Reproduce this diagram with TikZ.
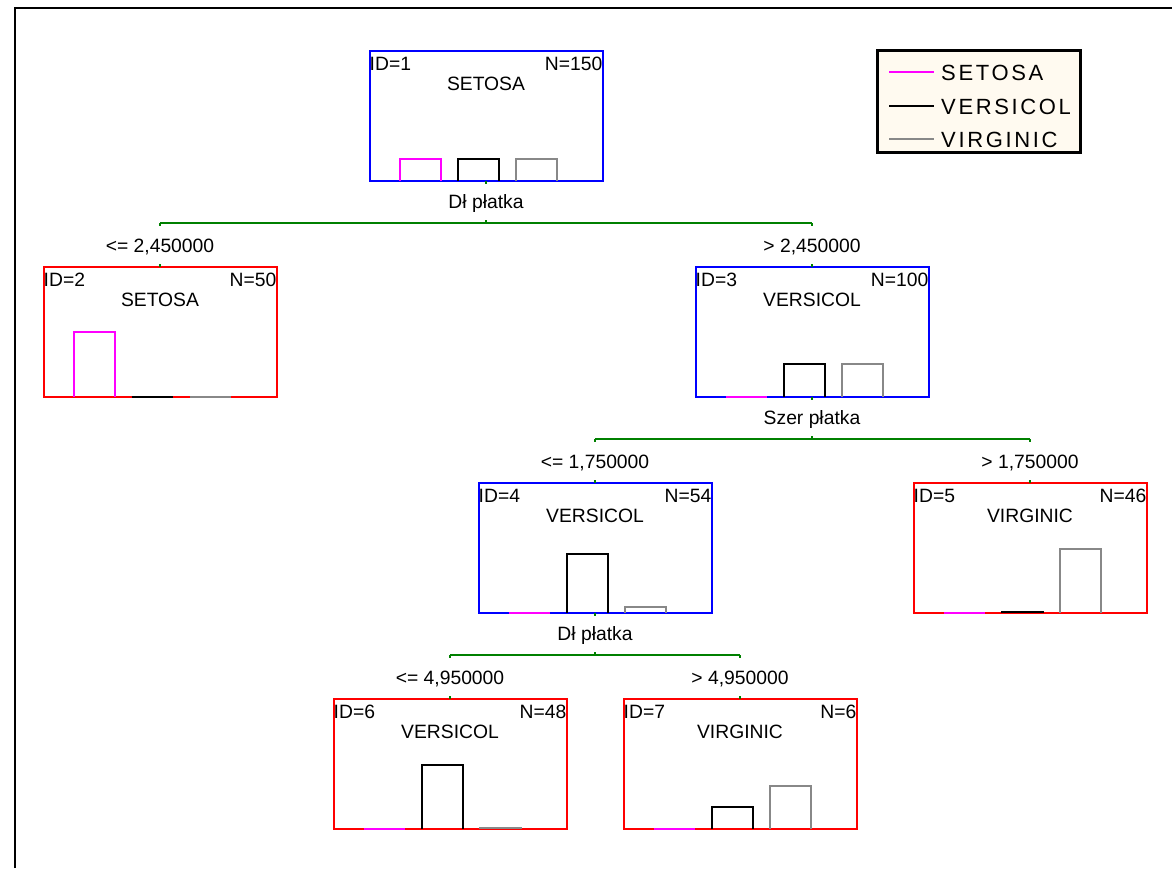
\documentclass[tikz,border=0pt]{standalone}
\usepackage{fontspec}
\setmainfont{Liberation Sans}
\newfontfamily\legfont[LetterSpace=12]{Liberation Sans}
\definecolor{tgreen}{RGB}{0,128,0}
\definecolor{tblue}{RGB}{0,0,255}
\definecolor{tred}{RGB}{255,0,0}
\definecolor{tmag}{RGB}{255,0,255}
\definecolor{tgray}{RGB}{136,136,136}
\definecolor{cream}{RGB}{255,250,240}
\tikzset{
  tbox/.style={draw, line width=2pt, minimum width=233pt, minimum height=130pt, outer sep=0pt, inner sep=0pt},
  txt/.style={inner sep=0pt, font=\fontsize{19.3}{22}\selectfont},
  legtxt/.style={inner sep=0pt, font=\fontsize{22}{26}\selectfont\legfont},
  conn/.style={draw=tgreen, line width=2pt},
  barline/.style={line width=2pt},
  legbox/.style={draw=black, line width=3pt, fill=cream, minimum width=203pt, minimum height=102pt, outer sep=0pt, inner sep=0pt}
}
\newcommand\treenode[7]{%
  \node[tbox, draw=#4, anchor=north] (#1) at (#2,#3) {};
  \node[txt, anchor=base west] (#1-id) at ([yshift=-19pt]#1.north west) {ID=#5};
  \node[txt, anchor=base east] (#1-n) at ([yshift=-19pt]#1.north east) {N=#6};
  \node[txt, anchor=base] (#1-cl) at ([yshift=-39pt]#1.north) {#7};
}
\newcommand\treebars[4]{%
  \draw[barline, tmag] ([xshift=30pt]#1.south west) -- ++(0,-#2) -- ++(41,0) -- ++(0,#2);
  \draw[barline, black] ([xshift=88pt]#1.south west) -- ++(0,-#3) -- ++(41,0) -- ++(0,#3);
  \draw[barline, tgray] ([xshift=146pt]#1.south west) -- ++(0,-#4) -- ++(41,0) -- ++(0,#4);
}
% split: parent, left child, right child, variable, left label, right label
\newcommand\treesplit[6]{%
  \node[txt, anchor=base] (#1-var) at ([yshift=-27pt]#1.south) {#4};
  \coordinate (#1-s) at ([yshift=-42pt]#1.south);
  \draw[conn] (#1.south) -- ++(0,3);
  \draw[conn] (#1-s) -- ++(0,-3);
  \draw[conn] (#2.north |- #1-s) -- (#3.north |- #1-s);
  \draw[conn] (#2.north |- #1-s) -- ++(0,3);
  \draw[conn] (#3.north |- #1-s) -- ++(0,3);
  \draw[conn] (#2.north) -- ++(0,-3);
  \draw[conn] (#3.north) -- ++(0,-3);
  \node[txt, anchor=base] (#2-cond) at ([yshift=15pt]#2.north) {#5};
  \node[txt, anchor=base] (#3-cond) at ([yshift=15pt]#3.north) {#6};
}
\begin{document}
\begin{tikzpicture}[x=1pt, y=-1pt]
\useasboundingbox (0,0) rectangle (1172,868);
\draw[line width=2.5pt] (15,868) -- (15,8) -- (1172,8);

\treenode{n1}{486}{51}{tblue}{1}{150}{SETOSA}
\treenode{n2}{160}{267}{tred}{2}{50}{SETOSA}
\treenode{n3}{812}{267}{tblue}{3}{100}{VERSICOL}
\treenode{n4}{595}{483}{tblue}{4}{54}{VERSICOL}
\treenode{n5}{1030}{483}{tred}{5}{46}{VIRGINIC}
\treenode{n6}{450}{699}{tred}{6}{48}{VERSICOL}
\treenode{n7}{740}{699}{tred}{7}{6}{VIRGINIC}

\treebars{n1}{22}{22}{22}
\treebars{n2}{65}{0}{0}
\treebars{n3}{0}{33}{33}
\treebars{n4}{0}{59}{6}
\treebars{n5}{0}{1.4}{64}
\treebars{n6}{0}{64}{1.4}
\treebars{n7}{0}{22}{43}

\treesplit{n1}{n2}{n3}{Dł płatka}{<= 2,450000}{> 2,450000}
\treesplit{n3}{n4}{n5}{Szer płatka}{<= 1,750000}{> 1,750000}
\treesplit{n4}{n6}{n7}{Dł płatka}{<= 4,950000}{> 4,950000}

\node[legbox, anchor=north west] (leg) at (877,50) {};
\draw[barline, tmag] (889,72) -- (934,72);
\draw[barline, black] (889,106) -- (934,106);
\draw[barline, tgray] (889,139) -- (934,139);
\node[legtxt, anchor=base west] (l1) at (941,80) {SETOSA};
\node[legtxt, anchor=base west] (l2) at (941,114) {VERSICOL};
\node[legtxt, anchor=base west] (l3) at (941,147) {VIRGINIC};
\end{tikzpicture}
\end{document}
